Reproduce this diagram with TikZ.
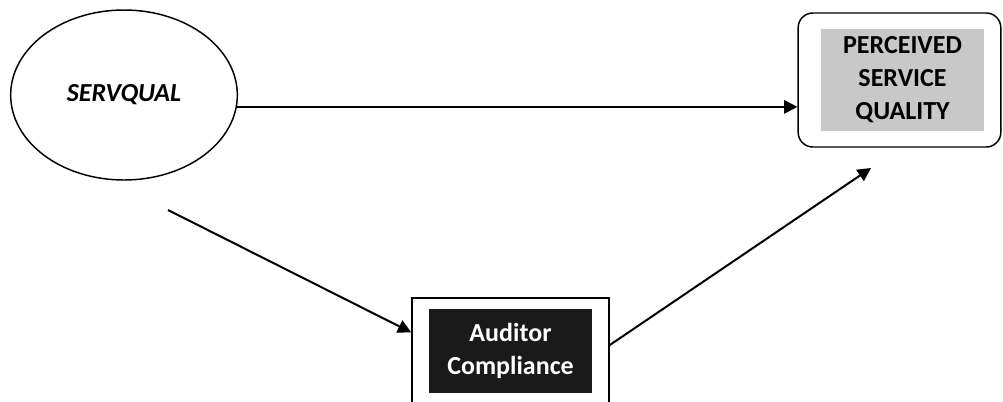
\documentclass[tikz,border=0pt]{standalone}
\usepackage{fontspec}
\setmainfont{Carlito}
\usetikzlibrary{arrows.meta, shapes.geometric, calc}

\begin{document}
\begin{tikzpicture}[x=0.75pt,y=-0.75pt,
	line width=1.1pt,
	txt/.style={font=\fontsize{19.5}{24.75}\selectfont\bfseries, align=center},
	arr/.style={-{Triangle[length=10pt,width=10pt]}, line width=1.5pt}]
	\useasboundingbox (0,0) rectangle (1003,401);
	% SERVQUAL
	\node[draw, ellipse, minimum width=170pt, minimum height=127.5pt] (servqual) at (124,95) {};
	\node[txt, font=\fontsize{19.5}{24.75}\selectfont\bfseries\itshape] (servtxt) at (124,95) {SERVQUAL};
	% Perceived service quality
	\node[draw, rounded corners=11pt, minimum width=152pt, minimum height=100.5pt] (percbox) at (899.5,80) {};
	\node[txt, fill={rgb,255:red,200;green,200;blue,200}, minimum width=122pt, minimum height=76.5pt, inner sep=0pt] (perc) at (902.5,80) {PERCEIVED\\SERVICE\\QUALITY};
	% Auditor compliance
	\node[draw, minimum width=147.75pt, minimum height=91.5pt] (audbox) at (510.5,359) {};
	\node[txt, fill={rgb,255:red,26;green,26;blue,26}, text=white, minimum width=122.25pt, minimum height=63pt, inner sep=0pt] (aud) at (510.5,351) {Auditor\\Compliance};
	% free ends
	\coordinate (s1) at (168,210);
	\coordinate (e2) at (871,168);
	% connectors
	\draw[arr] (servqual.-6) -- (servqual.-6 -| percbox.west);
	\draw[arr] (s1) -- (audbox.165);
	\draw[arr] (audbox.8) -- (e2);
\end{tikzpicture}
\end{document}
